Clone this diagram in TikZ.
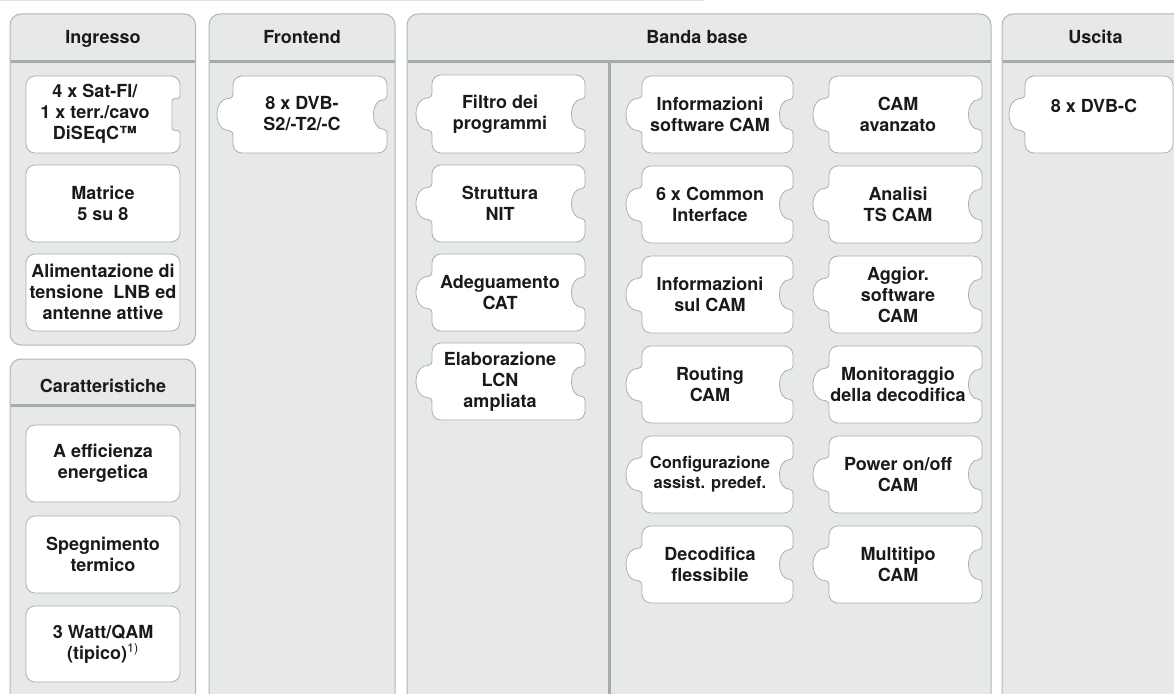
\documentclass[tikz,border=0pt]{standalone}
\usepackage{fontspec}
\setmainfont{TeX Gyre Heros}
\definecolor{panelfill}{HTML}{E6E9E8}
\definecolor{panelline}{HTML}{AFB6B6}
\definecolor{boxline}{HTML}{A9B2B2}
\definecolor{sepline}{HTML}{A3ACAC}
\definecolor{toplinec}{HTML}{DFE2E2}
\definecolor{txt}{HTML}{1A1A1A}
\tikzset{
 panel/.style={fill=panelfill, draw=panelline, line width=1pt, rounded corners=11pt},
 sepbar/.style={draw=sepline, line width=3pt},
 boxshape/.style={fill=white, draw=boxline, line width=0.8pt},
 lbl/.style={font=\bfseries\fontsize{18}{21}\selectfont, text=txt, align=center, inner sep=0pt},
 smalllbl/.style={font=\bfseries\fontsize{16.5}{20}\selectfont, text=txt, align=center, inner sep=0pt},
 hdr/.style={font=\bfseries\fontsize{18}{21}\selectfont, text=txt, inner sep=0pt, anchor=base},
}
\newcommand\plainbox[4]{\draw[boxshape, rounded corners=9pt] (#1,#2) rectangle (#3,#4);}
\newcommand\notchbox[4]{%
 \pgfmathsetmacro\xa{#1}\pgfmathsetmacro\ya{#2}\pgfmathsetmacro\xb{#3}\pgfmathsetmacro\yb{#4}%
 \pgfmathsetmacro\ym{(#2+#4)/2}%
 \draw[boxshape] (\xa+9,\ya) -- (\xb-9,\ya) .. controls (\xb-4,\ya) and (\xb,\ya+4) .. (\xb,\ya+9)
  -- (\xb,\ym-19) .. controls (\xb,\ym-17) and (\xb-1,\ym-16) .. (\xb-3,\ym-16) -- (\xb-5,\ym-16) .. controls (\xb-7,\ym-16) and (\xb-8,\ym-15) .. (\xb-8,\ym-13)
  -- (\xb-8,\ym+13) .. controls (\xb-8,\ym+15) and (\xb-7,\ym+16) .. (\xb-5,\ym+16) -- (\xb-3,\ym+16) .. controls (\xb-1,\ym+16) and (\xb,\ym+17) .. (\xb,\ym+19)
  -- (\xb,\yb-9) .. controls (\xb,\yb-4) and (\xb-4,\yb) .. (\xb-9,\yb) -- (\xa+9,\yb) .. controls (\xa+4,\yb) and (\xa,\yb-4) .. (\xa,\yb-9)
  -- (\xa,\ya+9) .. controls (\xa,\ya+4) and (\xa+4,\ya) .. (\xa+9,\ya) -- cycle;
}
\newcommand\puz[5]{%
 \pgfmathsetmacro\xa{#1}\pgfmathsetmacro\ya{#2}\pgfmathsetmacro\xb{#3}\pgfmathsetmacro\yb{#4}%
 \pgfmathsetmacro\ym{(#2+#4)/2}%
 \ifnum#5=1
  \def\rside{-- (\xb,\ym-19) .. controls (\xb,\ym-17) and (\xb-1,\ym-15) .. (\xb-3,\ym-15) .. controls (\xb-17,\ym-15) and (\xb-17,\ym+15) .. (\xb-3,\ym+15) .. controls (\xb-1,\ym+15) and (\xb,\ym+17) .. (\xb,\ym+19)}%
 \else\def\rside{}\fi
 \draw[boxshape] (\xa+9,\ya) -- (\xb-9,\ya) .. controls (\xb-4,\ya) and (\xb,\ya+4) .. (\xb,\ya+9)
  \rside
  -- (\xb,\yb-9) .. controls (\xb,\yb-4) and (\xb-4,\yb) .. (\xb-9,\yb) -- (\xa+9,\yb) .. controls (\xa+4,\yb) and (\xa,\yb-4) .. (\xa,\yb-9)
  -- (\xa,\ym+22) .. controls (\xa,\ym+18) and (\xa-1,\ym+16) .. (\xa-4,\ym+16) .. controls (\xa-20,\ym+16) and (\xa-20,\ym-16) .. (\xa-4,\ym-16) .. controls (\xa-1,\ym-16) and (\xa,\ym-18) .. (\xa,\ym-22)
  -- (\xa,\ya+9) .. controls (\xa,\ya+4) and (\xa+4,\ya) .. (\xa+9,\ya) -- cycle;
}
\begin{document}
\begin{tikzpicture}[x=1pt,y=-1pt]
\useasboundingbox (0,0) rectangle (1174,693);
\clip (0,0) rectangle (1174,693);
\fill[white] (0,0) rectangle (1174,693);
\draw[toplinec, line width=1pt] (0,0.5) -- (704,0.5);
% panels
\draw[panel] (10,14) rectangle (195.5,345);
\draw[panel] (10,359) rectangle (195.5,720);
\draw[panel] (209,14) rectangle (395,720);
\draw[panel] (407,14) rectangle (991,720);
\draw[panel] (1002,14) rectangle (1210,720);
\draw[sepbar] (10.5,61.5) -- (195,61.5);
\draw[sepbar] (10.5,405.5) -- (195,405.5);
\draw[sepbar] (209.5,61.5) -- (394.5,61.5);
\draw[sepbar] (407.5,61.5) -- (990.5,61.5);
\draw[sepbar] (1002.5,61.5) -- (1210,61.5);
\draw[sepbar] (609,61.5) -- (609,720);
% headers
\node[hdr] (hing) at (103,44) {Ingresso};
\node[hdr] (hcar) at (103,392) {Caratteristiche};
\node[hdr] (hfro) at (302,44) {Frontend};
\node[hdr] (hban) at (697,44) {Banda base};
\node[hdr] (husc) at (1095.5,44) {Uscita};
% Ingresso
\notchbox{26}{76}{180}{153}
\plainbox{26}{165}{180}{242}
\plainbox{26}{254}{180}{331}
\node[lbl] (ing1) at (95,114) {4 x Sat-FI/\\1 x terr./cavo\\DiSEqC™};
\node[lbl] (ing2) at (103,203) {Matrice\\5 su 8};
\node[lbl] (ing3) at (103,292) {Alimentazione di\\tensione\ \ LNB ed\\antenne attive};
% Caratteristiche
\plainbox{26}{425}{180}{502}
\plainbox{26}{516}{180}{593}
\plainbox{26}{606}{180}{682}
\node[lbl] (car1) at (103,463) {A efficienza\\energetica};
\node[lbl] (car2) at (103,554) {Spegnimento\\termico};
\node[lbl] (car3) at (103,644) {3 Watt/QAM\\(tipico)\textsuperscript{\mdseries 1)}};
% Frontend
\puz{233}{76}{387}{153}{1}
\node[lbl] (fro1) at (302,114) {8 x DVB-\\S2/-T2/-C};
% Banda base left
\puz{432}{75}{585}{153}{1}
\puz{432}{165}{585}{242}{1}
\puz{432}{254}{585}{331}{1}
\puz{432}{343}{585}{420}{1}
\node[lbl] (bl1) at (500,114) {Filtro dei\\programmi};
\node[lbl] (bl2) at (500,203.5) {Struttura\\NIT};
\node[lbl] (bl3) at (500,292.5) {Adeguamento\\CAT};
\node[lbl] (bl4) at (500,381.5) {Elaborazione\\LCN\\ampliata};
% Banda base column A and B
\foreach \y in {76,166,256,346,436,526}{
  \puz{642}{\y}{793}{\y+77}{1}
  \puz{829}{\y}{982}{\y+77}{1}
}
\node[lbl] (a1) at (710,114.5) {Informazioni\\software CAM};
\node[lbl] (a2) at (710,204.5) {6 x Common\\Interface};
\node[lbl] (a3) at (710,294.5) {Informazioni\\sul CAM};
\node[lbl] (a4) at (710,384.5) {Routing\\CAM};
\node[smalllbl] (a5) at (710,474.5) {Configurazione\\assist. predef.};
\node[lbl] (a6) at (710,564.5) {Decodifica\\flessibile};
\node[lbl] (b1) at (898,114.5) {CAM\\avanzato};
\node[lbl] (b2) at (898,204.5) {Analisi\\TS CAM};
\node[lbl] (b3) at (898,294.5) {Aggior.\\software\\CAM};
\node[lbl] (b4) at (898,384.5) {Monitoraggio\\della decodifica};
\node[lbl] (b5) at (898,474.5) {Power on/off\\CAM};
\node[lbl] (b6) at (898,564.5) {Multitipo\\CAM};
% Uscita
\puz{1025}{76}{1173}{153}{0}
\node[lbl] (usc1) at (1094,106) {8 x DVB-C};
\end{tikzpicture}
\end{document}
